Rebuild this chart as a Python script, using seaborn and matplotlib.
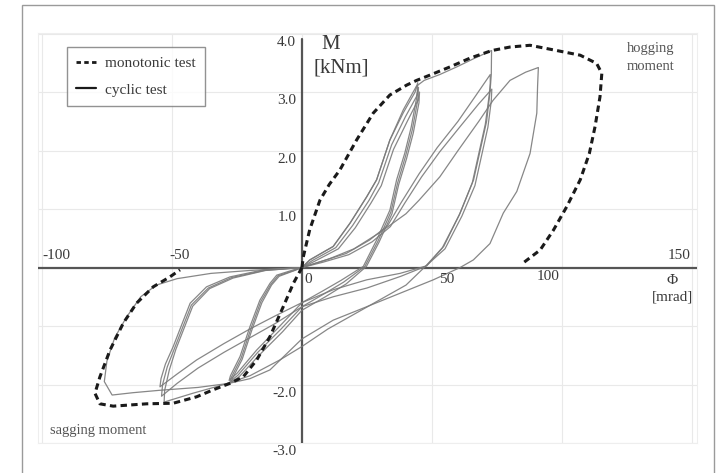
import numpy as np
import pandas as pd
import matplotlib
matplotlib.use("Agg")
import matplotlib.pyplot as plt
from matplotlib.lines import Line2D
from matplotlib.patches import Rectangle
import seaborn as sns

# ---------------- data ----------------
# monotonic test, hogging branch (phi [mrad], M [kNm])
mono_hog_x = [0, 0.5, 3, 6.9, 10.5, 14.6, 21, 27.4, 33.8, 40.3, 44.1, 49.2, 56.9, 64.6,
              73, 80, 87.7, 98, 107, 113.3, 115.3, 114.6, 112.7, 110.5, 107, 101.8, 96.7, 91.6, 85.1]
mono_hog_y = [0, 0.18, 0.65, 1.15, 1.42, 1.67, 2.18, 2.64, 2.95, 3.12, 3.2, 3.29, 3.43, 3.58,
              3.71, 3.77, 3.80, 3.71, 3.63, 3.49, 3.32, 2.92, 2.41, 1.95, 1.5, 1.04, 0.64, 0.3, 0.08]
# monotonic test, sagging branch
mono_sag_x = [0, -3.3, -7.2, -12.3, -17.4, -22.6, -27.7, -34.1, -40.5, -49.5, -59.7, -72.6,
              -77.7, -79.6, -77.7, -73.8, -68.7, -63.6, -57.2, -50.8, -46.9]
mono_sag_y = [0, -0.27, -0.67, -1.18, -1.58, -1.87, -1.98, -2.09, -2.21, -2.32, -2.33, -2.37,
              -2.33, -2.15, -1.87, -1.41, -0.95, -0.61, -0.33, -0.16, -0.04]

# cyclic test, cycles 1-3 (small amplitude)
cyc1_x = [0, 3, 12, 18.5, 24.9, 28.7, 33.8, 39, 43.5, 44.5, 44.3, 42, 39.5, 36.4, 33.8, 28.7, 23.6,
          15, 8, 0, -8.5, -17.4, -25, -28, -27.5, -23.8, -20, -16.2, -12.3, -9.7, -3.3, 0]
cyc1_y = [0, 0.13, 0.36, 0.76, 1.21, 1.5, 2.18, 2.65, 3.0, 3.16, 2.95, 2.4, 1.95, 1.5, 0.98, 0.47, 0.02,
          -0.22, -0.4, -0.6, -1.0, -1.41, -1.81, -1.93, -1.85, -1.52, -1.01, -0.56, -0.27, -0.13, -0.04, 0]
cyc2_x = [0, 4, 13, 19.5, 25.8, 29.5, 34.5, 39.8, 44, 44.8, 44.6, 42.4, 39.8, 36.8, 34.2, 29.2, 24.2,
          16, 8.5, 0, -8, -17, -24.6, -27.6, -27.2, -23.4, -19.6, -15.8, -12, -9.2, -3, 0]
cyc2_y = [0, 0.12, 0.34, 0.72, 1.15, 1.45, 2.1, 2.58, 2.92, 3.08, 2.88, 2.35, 1.9, 1.45, 0.95, 0.45, 0.02,
          -0.25, -0.45, -0.67, -1.05, -1.45, -1.84, -1.95, -1.88, -1.55, -1.04, -0.58, -0.29, -0.14, -0.05, 0]
cyc3_x = [0, 5, 14, 20.5, 26.5, 30.5, 35.2, 40.5, 44.5, 45.2, 45, 42.8, 40.2, 37.2, 34.6, 29.6, 24.8,
          17, 9, 0, -7.5, -16.5, -24, -27.2, -26.8, -23, -19.2, -15.4, -11.7, -8.8, -2.8, 0]
cyc3_y = [0, 0.11, 0.32, 0.68, 1.1, 1.4, 2.02, 2.5, 2.85, 3.0, 2.82, 2.3, 1.86, 1.42, 0.92, 0.43, 0.02,
          -0.28, -0.5, -0.73, -1.1, -1.5, -1.86, -1.96, -1.9, -1.57, -1.06, -0.6, -0.3, -0.15, -0.05, 0]
# cycles 4-6 (medium amplitude)
cyc4_x = [0, 3, 12, 18.5, 24.9, 28.7, 33.8, 39, 44, 47, 53, 59.5, 66, 72.9, 72.8, 72.3, 71, 68.5, 66,
          60.8, 54.5, 48, 37.7, 24.9, 12, 0, -10, -20, -30, -40.5, -48, -54.6, -54.2, -52.5, -49.5,
          -46, -43, -36.7, -27.7, -14.9, 0]
cyc4_y = [0, 0.13, 0.36, 0.76, 1.21, 1.5, 2.18, 2.7, 3.1, 3.2, 3.3, 3.43, 3.57, 3.71, 3.3, 3.0, 2.5, 2.0, 1.5,
          0.93, 0.36, 0.03, -0.1, -0.21, -0.38, -0.6, -0.82, -1.05, -1.3, -1.58, -1.82, -2.04, -1.9, -1.65, -1.35,
          -0.95, -0.61, -0.33, -0.16, -0.04, 0]
cyc5_x = [0, 7, 17, 26, 33, 38, 45, 52, 60, 67, 72.4, 72.4, 72, 70.5, 68, 65.5, 60.5, 54, 47.5, 38, 25, 12,
          0, -10, -20, -30, -40, -48, -54, -53.6, -51.8, -49, -45.5, -42.5, -36, -27, -14.5, 0]
cyc5_y = [0, 0.1, 0.24, 0.47, 0.72, 1.1, 1.6, 2.05, 2.5, 2.95, 3.3, 3.15, 2.95, 2.45, 1.95, 1.45, 0.9, 0.34,
          0.02, -0.15, -0.35, -0.5, -0.67, -0.95, -1.2, -1.45, -1.72, -1.98, -2.2, -2.0, -1.7, -1.38, -0.98,
          -0.64, -0.35, -0.17, -0.05, 0]
cyc6_x = [0, 8, 18, 27, 34, 39.5, 46, 53, 61, 68, 73, 72.8, 71.5, 69, 66.5, 61.5, 55, 47, 40, 30, 20, 10,
          0, -8.5, -20, -30, -42, -53, -52.8, -51, -48.5, -45, -42, -35.5, -26.5, -14, 0]
cyc6_y = [0, 0.09, 0.22, 0.44, 0.7, 1.1, 1.55, 1.98, 2.42, 2.8, 3.05, 2.85, 2.4, 1.9, 1.4, 0.88, 0.32, 0.0,
          -0.3, -0.55, -0.8, -1.05, -1.35, -1.58, -1.85, -2.0, -2.15, -2.3, -2.1, -1.75, -1.4, -1.0, -0.66,
          -0.36, -0.18, -0.05, 0]
# cycle 7 (large amplitude)
cyc7_x = [0, 10, 20, 30, 40, 45, 53, 60, 68, 73.5, 80, 86, 90.9, 90.6, 90.3, 87.7, 82.6, 77.4, 72.3, 65.9,
          60.8, 50.5, 37.7, 24.9, 12, 0, -12.3, -20, -28, -40, -55, -65, -73, -76, -75, -72, -67.5, -62,
          -56, -48, -35, -20, 0]
cyc7_y = [0, 0.14, 0.32, 0.6, 0.92, 1.15, 1.55, 2.0, 2.5, 2.86, 3.2, 3.34, 3.42, 3.1, 2.64, 1.95, 1.3, 0.93,
          0.41, 0.13, 0.0, -0.21, -0.44, -0.67, -0.9, -1.22, -1.75, -1.9, -1.98, -2.05, -2.1, -2.14, -2.18,
          -1.95, -1.6, -1.2, -0.85, -0.5, -0.3, -0.19, -0.1, -0.05, 0]

x_ticks = [-100, -50, 0, 50, 100, 150]
x_tick_labels = ["-100", "-50", "0", "50", "100", "150"]
y_ticks = [4, 3, 2, 1, -2, -3]
y_tick_labels = ["4.0", "3.0", "2.0", "1.0", "-2.0", "-3.0"]

# ---------------- build tables ----------------
cycles = [(cyc1_x, cyc1_y), (cyc2_x, cyc2_y), (cyc3_x, cyc3_y), (cyc4_x, cyc4_y),
          (cyc5_x, cyc5_y), (cyc6_x, cyc6_y), (cyc7_x, cyc7_y)]
cyc_df = pd.concat([pd.DataFrame({"phi": cx, "M": cy, "cycle": i})
                    for i, (cx, cy) in enumerate(cycles)], ignore_index=True)
mono_df = pd.concat([pd.DataFrame({"phi": mono_hog_x, "M": mono_hog_y, "branch": 0}),
                     pd.DataFrame({"phi": mono_sag_x, "M": mono_sag_y, "branch": 1})],
                    ignore_index=True)

# ---------------- figure ----------------
sns.set_theme(style="white")
plt.rcParams["font.family"] = ["Liberation Serif", "DejaVu Serif"]

W, H = 721, 473
fig = plt.figure(figsize=(W / 100, H / 100), dpi=100)
fig.patch.set_facecolor("white")
fig.patches.append(Rectangle((22 / W, -0.05), 692 / W, 1 - 5 / H + 0.05, transform=fig.transFigure,
                             fill=False, edgecolor="#9a9a9a", linewidth=1.0))

ax = fig.add_axes([38 / W, (H - 443) / H, 659 / W, 410 / H])
ax.set_xlim(-101.5, 151.9)
ax.set_ylim(-3.0, 4.01)
ax.set_facecolor("white")
for s in ax.spines.values():
    s.set_color("#eeeeee")
    s.set_linewidth(0.8)
ax.set_xticks(x_ticks)
ax.set_yticks([-3, -2, -1, 0, 1, 2, 3, 4])
ax.grid(True, color="#e9e9e9", linewidth=0.8)
ax.tick_params(length=0, labelbottom=False, labelleft=False)

# axes through origin
ax.axhline(0, color="#555555", linewidth=1.6, zorder=3)
ax.axvline(0, ymin=0, ymax=0.985, color="#555555", linewidth=1.6, zorder=3)

# cyclic curves
sns.lineplot(data=cyc_df, x="phi", y="M", units="cycle", estimator=None, sort=False,
             color="#7a7a7a", linewidth=0.9, alpha=0.9, ax=ax, zorder=4, legend=False)
# monotonic curves
sns.lineplot(data=mono_df, x="phi", y="M", units="branch", estimator=None, sort=False,
             color="#1a1a1a", linewidth=2.2, dashes=False, ax=ax, zorder=5, legend=False)
for ln in ax.lines[-2:]:
    ln.set_dashes((2.1, 1.4))

ax.set_xlabel("")
ax.set_ylabel("")

# tick labels
tcol = "#3a3a3a"
for v, lab in zip(y_ticks, y_tick_labels):
    ax.text(-2.2, v - 0.15, lab, ha="right", va="center", fontsize=11, color=tcol, zorder=6)
x_lab_pos = {-100: (5.4, 0.2), -50: (3.1, 0.2), 0: (2.3, -0.21), 50: (5.8, -0.2),
             100: (-5.2, -0.15), 150: (-5.0, 0.21)}
for v, lab in zip(x_ticks, x_tick_labels):
    dx, dy = x_lab_pos[v]
    ax.text(v + dx, dy, lab, ha="center", va="center", fontsize=11, color=tcol, zorder=6)

# axis titles
ax.text(11, 3.82, "M", ha="center", va="center", fontsize=15, color=tcol)
ax.text(15, 3.42, "[kNm]", ha="center", va="center", fontsize=15, color=tcol)
ax.text(142.5, -0.23, "Φ", ha="center", va="center", fontsize=11, color=tcol)
ax.text(142.5, -0.5, "[mrad]", ha="center", va="center", fontsize=11, color=tcol)

# annotations
ax.text(134.2, 3.75, "hogging", ha="center", va="center", fontsize=10.5, color="#555555")
ax.text(134.2, 3.43, "moment", ha="center", va="center", fontsize=10.5, color="#555555")
ax.text(-78.5, -2.78, "sagging moment", ha="center", va="center", fontsize=10.5, color="#555555")

# legend
handles = [Line2D([], [], color="#1a1a1a", linewidth=2.0, dashes=(1.6, 1.2)),
           Line2D([], [], color="#1a1a1a", linewidth=1.6)]
leg = ax.legend(handles, ["monotonic test", "cyclic test"], loc="upper left",
                bbox_to_anchor=(67 / W, 1 - 47 / H), bbox_transform=fig.transFigure,
                frameon=True, fancybox=False, edgecolor="#777777", fontsize=11,
                handlelength=1.3, handletextpad=0.6, labelspacing=0.85, borderpad=0.6,
                borderaxespad=0)
leg.get_frame().set_linewidth(1.0)
for t in leg.get_texts():
    t.set_color(tcol)

fig.savefig("out.png", dpi=100)
